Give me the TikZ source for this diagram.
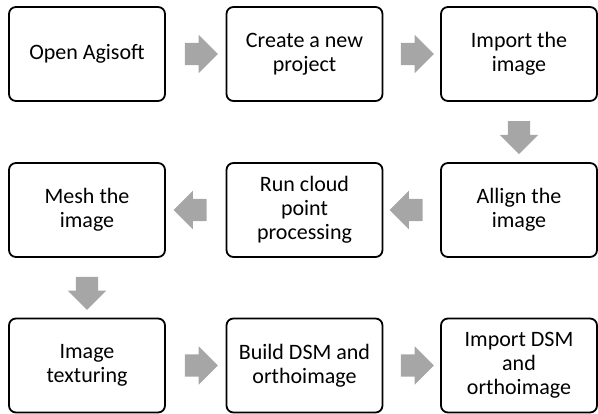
\documentclass[tikz,border=0pt]{standalone}
\usepackage{fontspec}
\setmainfont{Carlito}
\usepackage{xcolor}
\usetikzlibrary{positioning,shapes.arrows,calc}

\definecolor{arrowgray}{RGB}{166,166,166}

\tikzset{
  stepbox/.style={draw=black, line width=1.8pt, rounded corners=7pt, fill=white,
    minimum width=156pt, minimum height=94pt, align=center, inner sep=0pt,
    font=\fontsize{22}{24}\selectfont},
  flowarrow/.style={single arrow, fill=arrowgray, draw=none,
    inner xsep=0pt, inner ysep=11pt, minimum height=33pt,
    single arrow head extend=8pt, single arrow head indent=0pt},
  downarrow/.style={flowarrow, shape border rotate=270,
    inner xsep=11pt, inner ysep=0pt}
}

\begin{document}
\begin{tikzpicture}[x=1pt,y=1pt]
\useasboundingbox (0,0) rectangle (598,-414);
\node[stepbox] (open) at (87,-54) {Open Agisoft};
\node[stepbox] (create) at (304.5,-54) {Create a new\\project};
\node[stepbox] (import) at (519,-54) {Import the\\image};
\node[stepbox] (allign) at (519,-210) {Allign the\\image};
\node[stepbox] (cloud) at (304.5,-210) {Run cloud\\point\\processing};
\node[stepbox] (mesh) at (87,-210) {Mesh the\\image};
\node[stepbox] (texture) at (87,-365.5) {Image\\texturing};
\node[stepbox] (dsm) at (304.5,-365.5) {Build DSM and\\orthoimage};
\node[stepbox] (importdsm) at (519,-365.5) {Import DSM\\and\\orthoimage};
\node[flowarrow] (a1) at ($(open.east)!0.5!(create.west)$) {};
\node[flowarrow] (a2) at ($(create.east)!0.5!(import.west)$) {};
\node[downarrow] (a3) at ($(import.south)!0.5!(allign.north)$) {};
\node[flowarrow, shape border rotate=180] (a4) at ($(allign.west)!0.5!(cloud.east)$) {};
\node[flowarrow, shape border rotate=180] (a5) at ($(cloud.west)!0.5!(mesh.east)$) {};
\node[downarrow] (a6) at ($(mesh.south)!0.5!(texture.north)$) {};
\node[flowarrow] (a7) at ($(texture.east)!0.5!(dsm.west)$) {};
\node[flowarrow] (a8) at ($(dsm.east)!0.5!(importdsm.west)$) {};
\end{tikzpicture}
\end{document}
